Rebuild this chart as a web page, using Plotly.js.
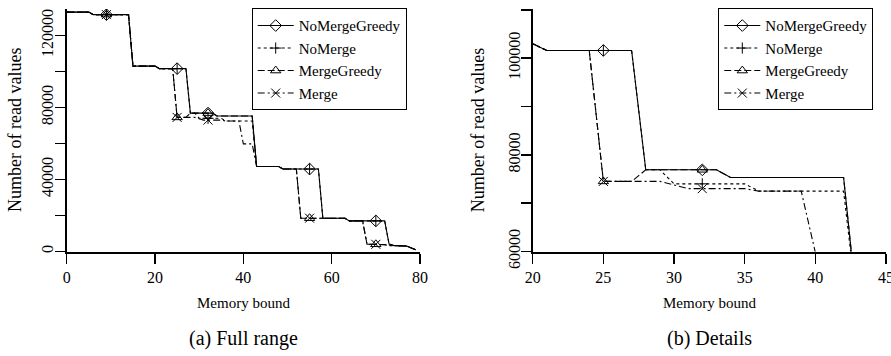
<!DOCTYPE html>
<html>
<head>
<meta charset="utf-8">
<script src="https://cdn.plot.ly/plotly-3.0.1.min.js"></script>
<style>html,body{margin:0;padding:0;background:#fff;}#chart{width:891px;height:356px;}</style>
</head>
<body>
<div id="chart"></div>
<script>
// ---- data (memory bound -> number of read values) ----
const seriesNames = ["NoMergeGreedy", "NoMerge", "MergeGreedy", "Merge"];

const noMergeGreedyX = [0, 5, 6, 14, 15, 20, 21, 27, 28, 33, 34, 42, 43, 48, 49, 57, 58, 63, 64, 72, 73, 74, 77, 79];
const noMergeGreedyY = [133000, 133000, 131600, 131600, 103000, 103000, 101600, 101600, 76900, 76900, 75300, 75300, 47200, 47200, 45800, 45800, 18500, 18500, 17000, 17000, 4100, 3400, 3000, 1000];

const noMergeX = [0, 5, 6, 14, 15, 20, 21, 27, 28, 29, 30, 35, 36, 42, 43, 48, 49, 57, 58, 63, 64, 72, 73, 74, 77, 79];
const noMergeY = [133000, 133000, 131600, 131600, 103000, 103000, 101600, 101600, 76900, 76900, 74000, 74000, 72500, 72500, 47200, 47200, 45800, 45800, 18500, 18500, 17000, 17000, 4100, 3400, 3000, 1000];

const mergeGreedyX = [0, 5, 6, 14, 15, 20, 21, 24, 25, 27, 28, 33, 34, 42, 43, 48, 49, 52, 53, 63, 64, 67, 68, 72, 73, 77, 79];
const mergeGreedyY = [133000, 133000, 131600, 131600, 103000, 103000, 101600, 101600, 74500, 74500, 76900, 76900, 75300, 75300, 47200, 47200, 45800, 45800, 18500, 18500, 17000, 17000, 4100, 3800, 3300, 3000, 1000];

const mergeX = [0, 5, 6, 14, 15, 20, 21, 24, 25, 29, 31, 35, 36, 39, 40, 42, 43, 48, 49, 52, 53, 63, 64, 67, 68, 72, 73, 77, 79];
const mergeY = [133000, 133000, 131600, 131600, 103000, 103000, 101600, 101600, 74500, 74500, 73000, 73000, 72500, 72500, 59800, 59800, 47200, 47200, 45800, 45800, 18500, 18500, 17000, 17000, 4100, 3800, 3300, 3000, 1000];

// marker positions (left: full range, right: details)
const markX_full = [9, 25, 32, 55, 70];
const markX_detail = [25, 32];
const noMergeGreedyMarks = [131600, 101600, 76900, 45800, 17000];
const noMergeMarks = [131600, 101600, 74000, 45800, 17000];
const mergeGreedyMarks = [131600, 74500, 76900, 18500, 4000];
const mergeMarks = [131600, 74500, 73000, 18500, 4000];

// axis ticks
const xTicksFull = [0, 20, 40, 60, 80];
const yTicksFull = [0, 20000, 40000, 60000, 80000, 100000, 120000];
const yTextFull = ["0", "", "40000", "", "80000", "", "120000"];
const xTicksDetail = [20, 25, 30, 35, 40, 45];
const yTicksDetail = [60000, 70000, 80000, 90000, 100000, 110000];
const yTextDetail = ["60000", "", "80000", "", "100000", ""];

// ---- styling ----
const styles = [
  {dash: "solid", symbol: "diamond-open", size: 9},
  {dash: "3px,3px", symbol: "cross-thin-open", size: 8},
  {dash: "7px,3px", symbol: "triangle-up-open", size: 9},
  {dash: "7px,3px,2px,3px", symbol: "x-thin-open", size: 9}
];
const xs = [noMergeGreedyX, noMergeX, mergeGreedyX, mergeX];
const ys = [noMergeGreedyY, noMergeY, mergeGreedyY, mergeY];
const marks = [noMergeGreedyMarks, noMergeMarks, mergeGreedyMarks, mergeMarks];

function withGaps(arr) { const o = []; arr.forEach((v, i) => { if (i) o.push(null); o.push(v); }); return o; }

const traces = [];
[["x", "y", "legend", markX_full], ["x2", "y2", "legend2", markX_detail]].forEach(([xa, ya, lg, mx]) => {
  for (let i = 0; i < 4; i++) {
    traces.push({
      type: "scatter", mode: "lines", x: xs[i], y: ys[i], xaxis: xa, yaxis: ya,
      line: {color: "black", width: 1.1, dash: styles[i].dash}, showlegend: false, hoverinfo: "skip"
    });
  }
  for (let i = 0; i < 4; i++) {
    const my = mx.map(v => marks[i][markX_full.indexOf(v)]);
    traces.push({
      type: "scatter", mode: "lines+markers", name: seriesNames[i],
      x: withGaps(mx), y: withGaps(my), connectgaps: false, xaxis: xa, yaxis: ya, legend: lg,
      line: {color: "black", width: 1.1, dash: styles[i].dash},
      marker: {symbol: styles[i].symbol, size: styles[i].size, color: "black", line: {color: "black", width: 1}}
    });
  }
});

const W = 891, H = 356;
const fx = p => p / W, fy = p => 1 - p / H;
const yDom = [fy(251.5), fy(9)];
const serif = "Liberation Serif, Times New Roman, serif";
const axCommon = {
  showline: true, linecolor: "black", linewidth: 2, showgrid: false, zeroline: false,
  ticks: "outside", ticklen: 10, tickwidth: 1.5, tickcolor: "black", fixedrange: true,
  tickfont: {family: serif, size: 16, color: "black"}, ticklabeloverflow: "allow"
};
const legCommon = {
  xanchor: "left", yanchor: "top", bgcolor: "white", bordercolor: "black", borderwidth: 1,
  font: {family: serif, size: 15, color: "black"}, itemwidth: 36, tracegroupgap: 0
};
function ann(text, x, y, size, angle) {
  return {text: text, xref: "paper", yref: "paper", x: fx(x), y: fy(y), xanchor: "center", yanchor: "middle",
          showarrow: false, textangle: angle || 0, font: {family: serif, size: size, color: "black"}};
}

const layout = {
  width: W, height: H, margin: {l: 0, r: 0, t: 0, b: 0},
  paper_bgcolor: "white", plot_bgcolor: "white",
  font: {family: serif, color: "black", size: 15},
  showlegend: true,
  xaxis: Object.assign({}, axCommon, {domain: [fx(66.7), fx(420)], range: [0, 80], tickmode: "array", tickvals: xTicksFull, ticklabelstandoff: 0, anchor: "y"}),
  yaxis: Object.assign({}, axCommon, {domain: yDom, range: [0, 134720], tickmode: "array", tickvals: yTicksFull, ticktext: yTextFull, tickangle: -90, ticklabelstandoff: -5, anchor: "x"}),
  xaxis2: Object.assign({}, axCommon, {domain: [fx(532.7), fx(886)], range: [20, 45.0001], tickmode: "array", tickvals: xTicksDetail, ticklabelstandoff: 0, anchor: "y2"}),
  yaxis2: Object.assign({}, axCommon, {domain: yDom, range: [60000, 110175], tickmode: "array", tickvals: yTicksDetail, ticktext: yTextDetail, tickangle: -90, ticklabelstandoff: -6, anchor: "x2"}),
  legend: Object.assign({}, legCommon, {x: fx(251.7), y: fy(8.3)}),
  legend2: Object.assign({}, legCommon, {x: fx(718.3), y: fy(8.3)}),
  annotations: [
    ann("Memory bound", 243.3, 303, 15),
    ann("Memory bound", 709.3, 303, 15),
    ann("Number of read values", 15, 130, 18, -90),
    ann("Number of read values", 478.3, 130, 18, -90),
    ann("(a) Full range", 243.3, 338, 20),
    ann("(b) Details", 709.3, 338, 20)
  ]
};

Plotly.newPlot("chart", traces, layout, {staticPlot: true, displayModeBar: false});
</script>
</body>
</html>
